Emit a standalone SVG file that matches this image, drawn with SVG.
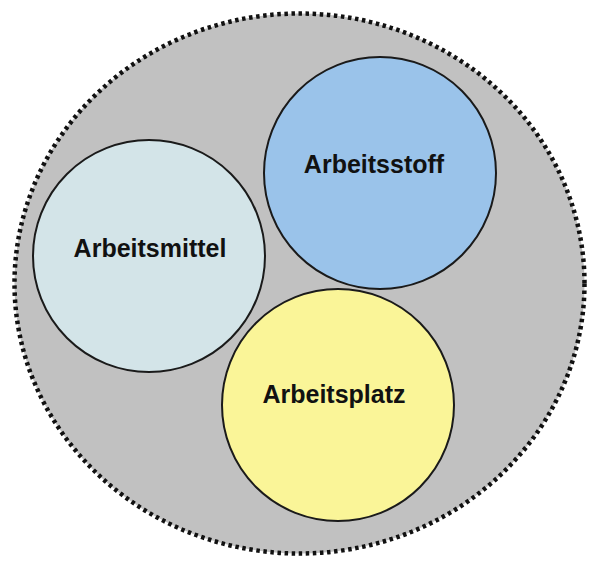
<svg xmlns="http://www.w3.org/2000/svg" width="597" height="561" viewBox="0 0 597 561">
<style>
.c{stroke:#1a1a1a;stroke-width:2}
.t{font-family:"Liberation Sans",Arial,sans-serif;font-weight:bold;font-size:25px;fill:#111;text-anchor:middle}
</style>
<rect width="597" height="561" fill="#fff"/>
<g id="outer">
<ellipse cx="299.5" cy="283.5" rx="285" ry="270" fill="#c1c1c1" stroke="#111" stroke-width="4.5" stroke-dasharray="3.5 3.6"/>
</g>
<g id="arbeitsmittel">
<circle class="c" cx="149" cy="256" r="116" fill="#d3e4e8"/>
<text class="t" x="150" y="257">Arbeitsmittel</text>
</g>
<g id="arbeitsstoff">
<circle class="c" cx="380" cy="173" r="116" fill="#9ac3ea"/>
<text class="t" x="374" y="173">Arbeitsstoff</text>
</g>
<g id="arbeitsplatz">
<circle class="c" cx="338" cy="405" r="116" fill="#faf598"/>
<text class="t" x="334" y="403">Arbeitsplatz</text>
</g>
<g id="connectors"/>
</svg>
